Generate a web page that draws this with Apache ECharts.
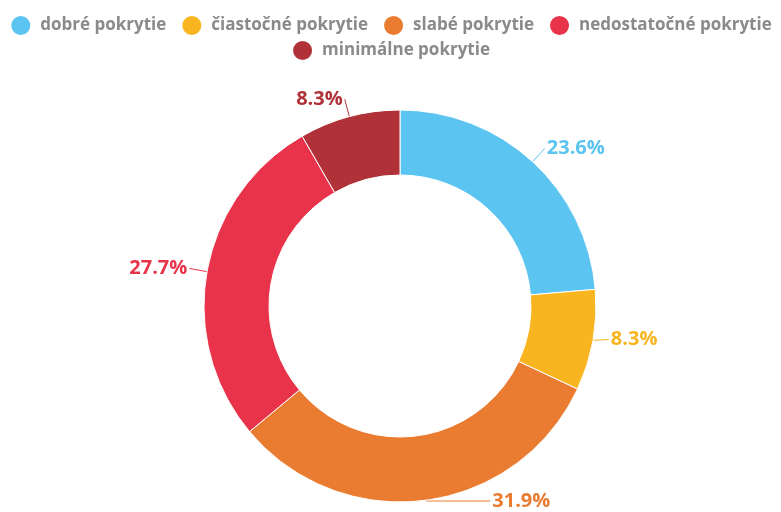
<!DOCTYPE html>
<html>
<head>
<meta charset="utf-8">
<script src="https://cdn.jsdelivr.net/npm/echarts@6/dist/echarts.min.js"></script>
<style>
  html, body { margin: 0; padding: 0; background: #fff; }
  #chart { width: 781px; height: 512px; }
</style>
</head>
<body>
<div id="chart"></div>
<script>
// pokrytie - podiely
var categories = ['dobré pokrytie', 'čiastočné pokrytie', 'slabé pokrytie', 'nedostatočné pokrytie', 'minimálne pokrytie'];
var values = [23.6, 8.3, 31.9, 27.7, 8.3];
var colors = ['#5bc4f1', '#f9b51f', '#e97c31', '#e8334a', '#b03238'];

var chart = echarts.init(document.getElementById('chart'));

var data = categories.map(function (name, i) {
    var d = {
        name: name,
        value: values[i],
        itemStyle: { color: colors[i] },
        label: { color: colors[i] },
        labelLine: { lineStyle: { color: colors[i] } }
    };
    // spodny popisok je posunuty doprava
    if (i === 2) {
        d.labelLine.length = 8;
        d.labelLine.length2 = 64;
    }
    return d;
});

function legendCfg(items, top) {
    return {
        top: top,
        left: 'center',
        icon: 'circle',
        itemWidth: 21,
        itemHeight: 21,
        itemGap: 14,
        textStyle: {
            fontFamily: 'Open Sans',
            fontWeight: 'bold',
            fontSize: 17,
            color: '#8a8a8a',
            padding: [0, 0, 0, 4]
        },
        data: items
    };
}

chart.setOption({
    animation: false,
    color: colors,
    legend: [
        legendCfg(categories.slice(0, 4), 9),
        legendCfg(categories.slice(4), 34)
    ],
    series: [{
        type: 'pie',
        center: [400, 306],
        radius: [131, 196],
        startAngle: 90,
        clockwise: true,
        itemStyle: { borderColor: '#fff', borderWidth: 1 },
        label: {
            show: true,
            formatter: function (p) { return p.value + '%'; },
            fontFamily: 'Open Sans',
            fontWeight: 'bold',
            fontSize: 20,
            distanceToLabelLine: 2
        },
        labelLine: { show: true, length: 18, length2: 0, lineStyle: { width: 1 } },
        data: data
    }]
});
</script>
</body>
</html>
